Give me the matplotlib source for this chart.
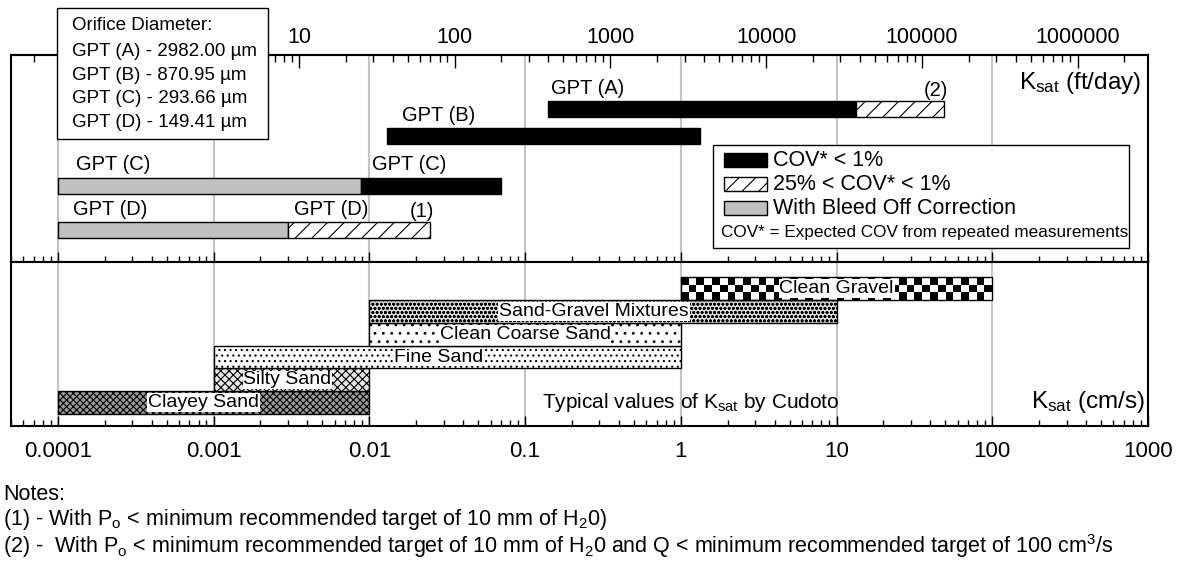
import matplotlib

matplotlib.use('Agg')

import numpy as np
import matplotlib.pyplot as plt
from matplotlib.patches import Rectangle
from matplotlib.ticker import LogLocator, FixedLocator, NullFormatter

plt.rcParams['font.family'] = ['Liberation Sans', 'DejaVu Sans']
plt.rcParams['mathtext.fontset'] = 'custom'
plt.rcParams['mathtext.rm'] = 'Liberation Sans'
plt.rcParams['mathtext.it'] = 'Liberation Sans:italic'
plt.rcParams['hatch.linewidth'] = 0.8

FT_DAY_PER_CM_S = 2834.6

# GPT measured ranges in ft/day (nan = no such segment)
gpt_labels = ['GPT (A)', 'GPT (B)', 'GPT (C)', 'GPT (D)']
bleed_lo = [np.nan, np.nan, 0.2835, 0.2835]
bleed_hi = [np.nan, np.nan, 25, 8.5]
good_lo = [400, 37, 25, np.nan]
good_hi = [38000, 3750, 200, np.nan]
fair_lo = [38000, np.nan, np.nan, 8.5]
fair_hi = [138000, np.nan, np.nan, 69]
gpt_notes = ['(2)', '', '', '(1)']

orifice_um = ['2982.00', '870.95', '293.66', '149.41']

# typical Ksat ranges after Cudoto, cm/s
soils = ['Clayey Sand', 'Silty Sand', 'Fine Sand', 'Clean Coarse Sand',
         'Sand-Gravel Mixtures', 'Clean Gravel']
soil_lo = [1e-4, 1e-3, 1e-3, 1e-2, 1e-2, 1]
soil_hi = [1e-2, 1e-2, 1, 1, 10, 100]

x_ticks = [0.0001, 0.001, 0.01, 0.1, 1, 10, 100, 1000]
x_tick_labels = ['0.0001', '0.001', '0.01', '0.1', '1', '10', '100', '1000']
ft_ticks = [10, 100, 1000, 10000, 100000, 1000000]
ft_tick_labels = ['10', '100', '1000', '10000', '100000', '1000000']

W, H = 1179, 564
fig = plt.figure(figsize=(W / 100, H / 100), dpi=100)


def fx(px):
    return px / W


def fy(py):
    return 1 - py / H


def rect(x0, y0, x1, y1):
    return [fx(x0), fy(y1), (x1 - x0) / W, (y1 - y0) / H]


ax_top = fig.add_axes(rect(11, 55, 1148, 262))
ax_bot = fig.add_axes(rect(11, 262, 1148, 426))

for ax in (ax_top, ax_bot):
    ax.set_xscale('log')
    ax.set_xlim(5e-5, 1000)
    ax.set_yticks([])
    ax.set_axisbelow(True)
    ax.grid(axis='x', which='major', color='#c4c4c4', lw=1.5)
    for s in ax.spines.values():
        s.set_linewidth(1.5)
    ax.xaxis.set_minor_locator(LogLocator(base=10, subs=np.arange(2, 10), numticks=20))
    ax.xaxis.set_minor_formatter(NullFormatter())
    ax.tick_params(axis='x', which='major', direction='in', length=7, width=1)
    ax.tick_params(axis='x', which='minor', direction='in', length=4, width=1)

# ---- top panel: GPT ranges ----
row_y = np.array([153, 126, 76.5, 32])
bar_h = 16
ax_top.set_ylim(0, 207)
ax_top.set_xticks(x_ticks)
ax_top.tick_params(axis='x', which='both', top=False, labelbottom=False)

seg_styles = [
    (bleed_lo, bleed_hi, dict(facecolor='#c0c0c0')),
    (good_lo, good_hi, dict(facecolor='black')),
    (fair_lo, fair_hi, dict(facecolor='white', hatch='//')),
]
for lo, hi, style in seg_styles:
    lo_cm = np.array(lo) / FT_DAY_PER_CM_S
    hi_cm = np.array(hi) / FT_DAY_PER_CM_S
    ok = ~np.isnan(lo_cm)
    ax_top.barh(row_y[ok], hi_cm[ok] - lo_cm[ok], left=lo_cm[ok], height=bar_h,
                edgecolor='black', linewidth=1, zorder=2, **style)

# label nudges (pixels) for the bleed-off and the main segment of each row
label_dx = [(None, 3), (None, 15), (18, 11), (15, 6)]
for i, name in enumerate(gpt_labels):
    starts = []
    if not np.isnan(bleed_lo[i]):
        starts.append((bleed_lo[i], label_dx[i][0]))
    main_lo = good_lo[i] if not np.isnan(good_lo[i]) else fair_lo[i]
    starts.append((main_lo, label_dx[i][1]))
    for st, dx in starts:
        ax_top.annotate(name, (st / FT_DAY_PER_CM_S, row_y[i] + bar_h / 2),
                        xytext=(dx, 13), textcoords='offset pixels',
                        ha='left', va='center', fontsize=14.5)
    if gpt_notes[i]:
        ax_top.annotate(gpt_notes[i], (fair_hi[i] / FT_DAY_PER_CM_S, row_y[i] + bar_h / 2),
                        xytext=(5, 11), textcoords='offset pixels',
                        ha='right', va='center', fontsize=14.5)

sec = ax_top.secondary_xaxis('top', functions=(lambda x: x * FT_DAY_PER_CM_S,
                                                lambda x: x / FT_DAY_PER_CM_S))
sec.set_xticks(ft_ticks, labels=ft_tick_labels)
sec.xaxis.set_minor_locator(FixedLocator(
    [m * 10.0 ** e for e in range(-1, 7) for m in range(2, 10)]))
sec.xaxis.set_minor_formatter(NullFormatter())
sec.tick_params(which='major', direction='in', length=9, width=1, labelsize=15.5, pad=5)
sec.tick_params(which='minor', direction='in', length=5, width=1)
sec.spines['top'].set_linewidth(1.5)

fig.text(fx(1141), fy(83), r'K$_\mathrm{sat}$ (ft/day)', ha='right', va='center', fontsize=17.5)

# ---- bottom panel: typical values ----
ax_bot.set_ylim(-0.526, 6.67)
ax_bot.set_xticks(x_ticks, labels=x_tick_labels)
ax_bot.tick_params(axis='x', which='both', top=False, labelsize=16, pad=11)

soil_styles = [
    dict(facecolor='#9a9a9a', hatch='xxxxx'),
    dict(facecolor='#e6e6e6', hatch='xxxx'),
    dict(facecolor='white', hatch='...'),
    dict(facecolor='white', hatch='..'),
    dict(facecolor='#dcdcdc', hatch='oooo....'),
    dict(facecolor='none'),
]
soil_label_dx = [-10, -4, -9, 0, -9, 0]
for i, name in enumerate(soils):
    lo, hi = soil_lo[i], soil_hi[i]
    ax_bot.barh(i, hi - lo, left=lo, height=1, align='edge', edgecolor='black',
                linewidth=1, zorder=3, **soil_styles[i])
    ax_bot.annotate(name, (np.sqrt(lo * hi), i + 0.5), xytext=(soil_label_dx[i], 0),
                    textcoords='offset pixels', ha='center', va='center', fontsize=14,
                    bbox=dict(facecolor='white', edgecolor='none', pad=0.5), zorder=5)

# checkerboard fill for the gravel bar
g = soils.index('Clean Gravel')
xe = np.logspace(np.log10(soil_lo[g]), np.log10(soil_hi[g]), 41)
ye = np.linspace(g, g + 1, 4)
checker = (np.add.outer(np.arange(3), np.arange(40)) + 1) % 2
ax_bot.pcolormesh(xe, ye, checker, cmap='gray_r', vmin=0, vmax=1, zorder=2)

fig.text(fx(691), fy(402), r'Typical values of K$_\mathrm{sat}$ by Cudoto',
         ha='center', va='center', fontsize=15)
fig.text(fx(1145), fy(402), r'K$_\mathrm{sat}$ (cm/s)', ha='right', va='center', fontsize=17.5)

# ---- orifice diameter box ----
fig.add_artist(Rectangle((fx(57), fy(139)), (268 - 57) / W, (139 - 8) / H,
                         transform=fig.transFigure, facecolor='white',
                         edgecolor='black', linewidth=1, zorder=5))
fig.text(fx(72), fy(25), 'Orifice Diameter:', va='center', fontsize=13.5, zorder=6)
for i, d in enumerate(orifice_um):
    fig.text(fx(72), fy(52 + 23.5 * i), f'{gpt_labels[i]} - {d} \u00b5m',
             va='center', fontsize=13.5, zorder=6)

# ---- legend ----
fig.add_artist(Rectangle((fx(713), fy(248)), (1129 - 713) / W, (248 - 145) / H,
                         transform=fig.transFigure, facecolor='white',
                         edgecolor='black', linewidth=1, zorder=5))
legend_items = [
    ('COV* < 1%', dict(facecolor='black')),
    ('25% < COV* < 1%', dict(facecolor='white', hatch='//')),
    ('With Bleed Off Correction', dict(facecolor='#c0c0c0')),
]
for i, (txt, style) in enumerate(legend_items):
    yc = 160 + 24 * i
    fig.add_artist(Rectangle((fx(724), fy(yc + 7)), 43 / W, 14 / H,
                             transform=fig.transFigure, edgecolor='black',
                             linewidth=1, zorder=6, **style))
    fig.text(fx(773), fy(yc), txt, va='center', fontsize=15.5, zorder=6)
fig.text(fx(721), fy(233), 'COV* = Expected COV from repeated measurements',
         va='center', fontsize=12.3, zorder=6)

# ---- notes ----
notes = [
    'Notes:',
    r'(1) - With P$_\mathrm{o}$ < minimum recommended target of 10 mm of H$_2$0)',
    r'(2) -  With P$_\mathrm{o}$ < minimum recommended target of 10 mm of H$_2$0 and '
    r'Q < minimum recommended target of 100 cm$^3$/s',
]
for i, line in enumerate(notes):
    fig.text(fx(3), fy(494 + 26 * i), line, va='center', fontsize=15.5)

fig.savefig('out.png', dpi=100)
